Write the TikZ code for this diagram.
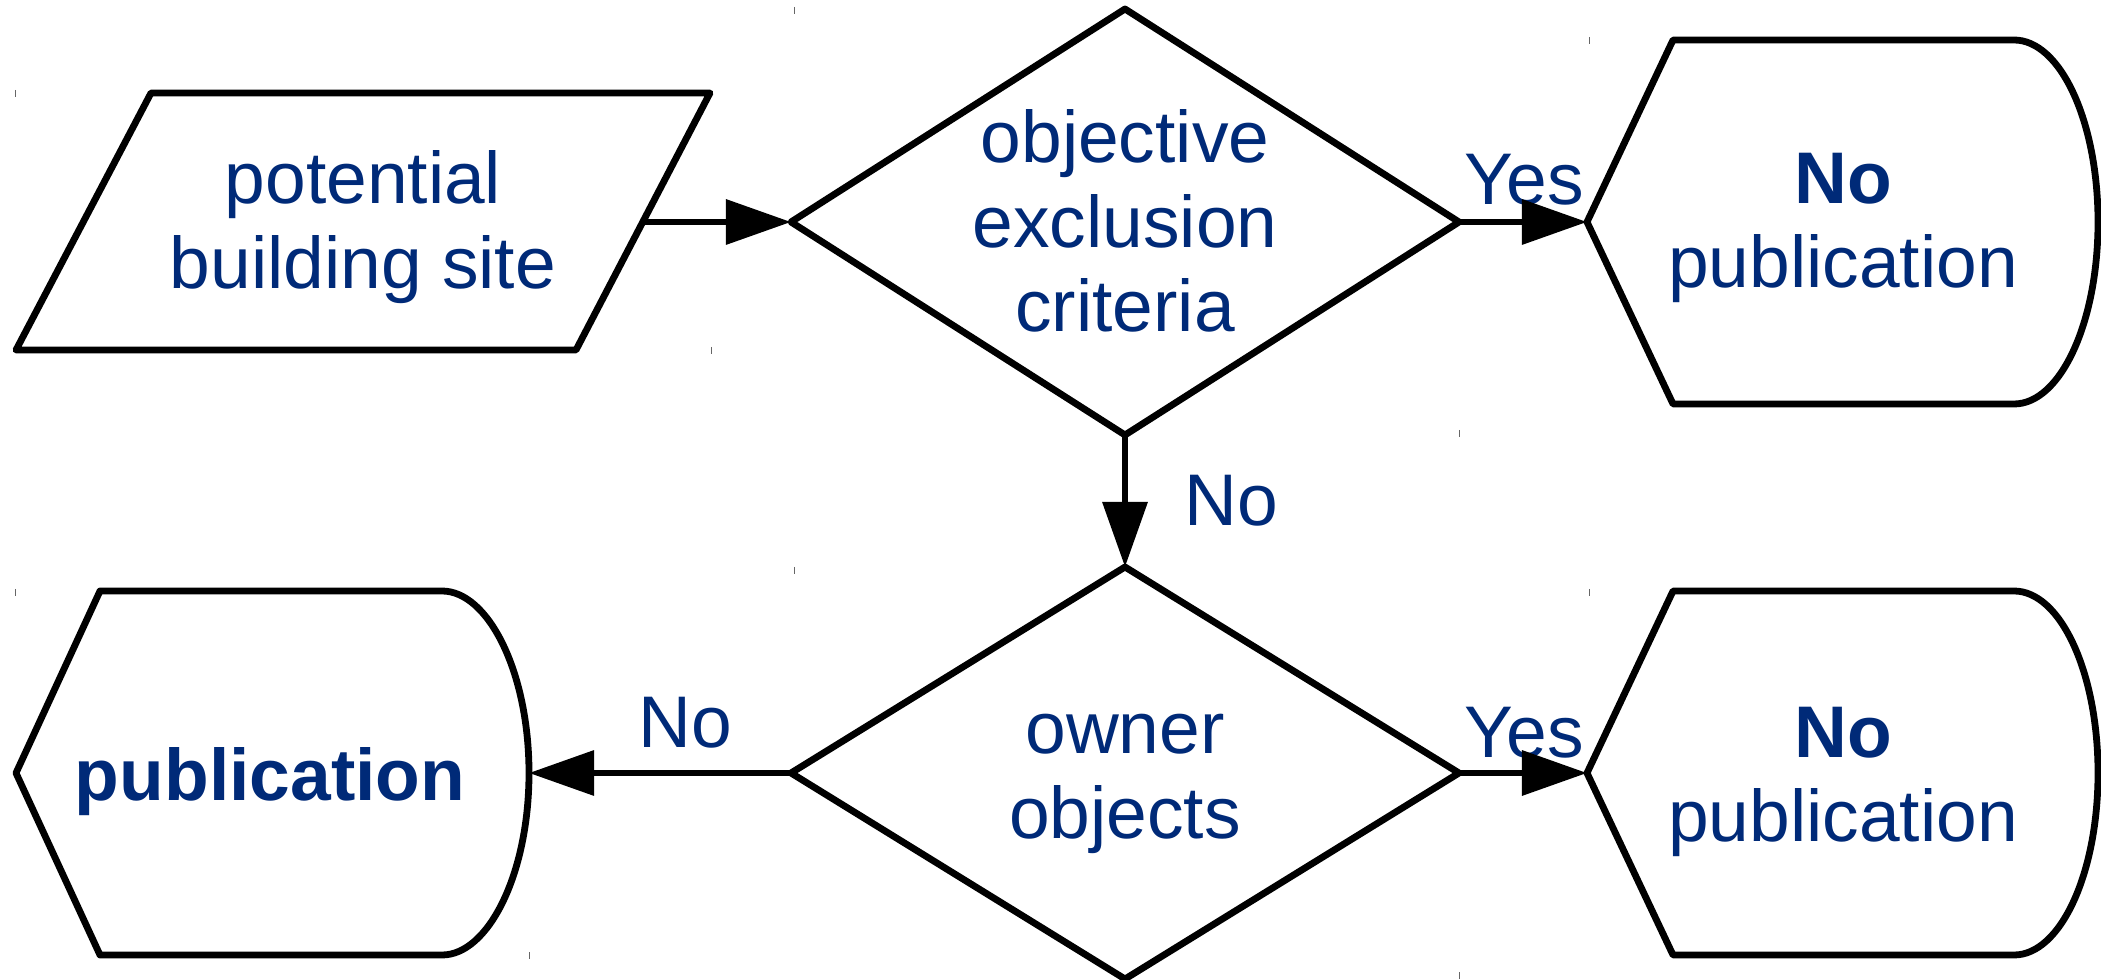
\documentclass[tikz,border=0pt]{standalone}
\usepackage{fontspec}
\setmainfont{Liberation Sans}
\usetikzlibrary{arrows.meta}
\definecolor{txtblue}{HTML}{002A78}
\tikzset{
  shapeline/.style={draw=black, line width=0.68mm, line join=round, fill=white},
  txt/.style={text=txtblue, font=\fontsize{20.8}{24}\selectfont, align=center, inner sep=0pt},
  lbl/.style={text=txtblue, font=\fontsize{20.8}{24}\selectfont, inner sep=0pt, anchor=base},
  arr/.style={draw=black, line width=0.65mm, -{Triangle[length=6.5mm,width=4.4mm]}},
  tick/.style={draw=black!60, line width=0.1mm}
}
\begin{document}
\begin{tikzpicture}[x=0.01cm,y=-0.01cm]
\useasboundingbox (0,0) rectangle (2101,980);
% parallelogram
\coordinate (pTL) at (151,93); \coordinate (pTR) at (710,93);
\coordinate (pBR) at (576,350); \coordinate (pBL) at (16,350);
\coordinate (pR) at (643,222);
\draw[shapeline] (pTL) -- (pTR) -- (pBR) -- (pBL) -- cycle;
\node[txt] (site) at (363,227) {potential\\building site};
% diamond 1
\coordinate (d1L) at (791,222); \coordinate (d1T) at (1125,9);
\coordinate (d1R) at (1459,222); \coordinate (d1B) at (1125,435);
\draw[shapeline] (d1L) -- (d1T) -- (d1R) -- (d1B) -- cycle;
\node[txt] (obj) at (1125,221) {objective\\exclusion\\criteria};
% hex 1
\coordinate (h1L) at (1587,222);
\draw[shapeline] (h1L) -- (1673,40) -- (2014,40) .. controls (2060.4,40) and (2098,121.5) .. (2098,222)
  .. controls (2098,322.5) and (2060.4,404) .. (2014,404) -- (1673,404) -- cycle;
\node[txt] (np1) at (1843,228) {\textbf{No}\\publication};
% diamond 2
\coordinate (d2L) at (791,773); \coordinate (d2T) at (1125,567);
\coordinate (d2R) at (1459,773); \coordinate (d2B) at (1125,979);
\draw[shapeline] (d2L) -- (d2T) -- (d2R) -- (d2B) -- cycle;
\node[txt] (owner) at (1125,784) {owner\\objects};
% hex 2
\coordinate (h2L) at (1587,773);
\draw[shapeline] (h2L) -- (1673,591) -- (2014,591) .. controls (2060.4,591) and (2098,672.5) .. (2098,773)
  .. controls (2098,873.5) and (2060.4,955) .. (2014,955) -- (1673,955) -- cycle;
\node[txt] (np2) at (1843,782) {\textbf{No}\\publication};
% publication
\coordinate (pubR) at (529,773);
\draw[shapeline] (16,773) -- (100,591) -- (442,591) .. controls (488.4,591) and (529,672.5) .. (pubR)
  .. controls (529,873.5) and (488.4,955) .. (442,955) -- (100,955) -- cycle;
\node[txt] (pub) at (270,782) {\textbf{publication}};
% labels
\node[lbl] (yes1) at (1524,205) {Yes};
\node[lbl] (yes2) at (1524,757) {Yes};
\node[lbl] (no1) at (1231,526) {No};
\node[lbl] (no2) at (685,747) {No};
% connectors
\draw[arr] (pR) -- (d1L);
\draw[arr] (d1R) -- (h1L);
\draw[arr] (d1B) -- (d2T);
\draw[arr] (d2R) -- (h2L);
\draw[arr] (d2L) -- (pubR);
% bounding-box marks
\foreach \tx/\ty in {15/93, 711/350, 794/10, 1459/433, 1589/40, 15/592, 529/955, 794/570, 1589/592, 1459/975}
  \draw[tick] (\tx,\ty-3) -- (\tx,\ty+4);
\end{tikzpicture}
\end{document}
